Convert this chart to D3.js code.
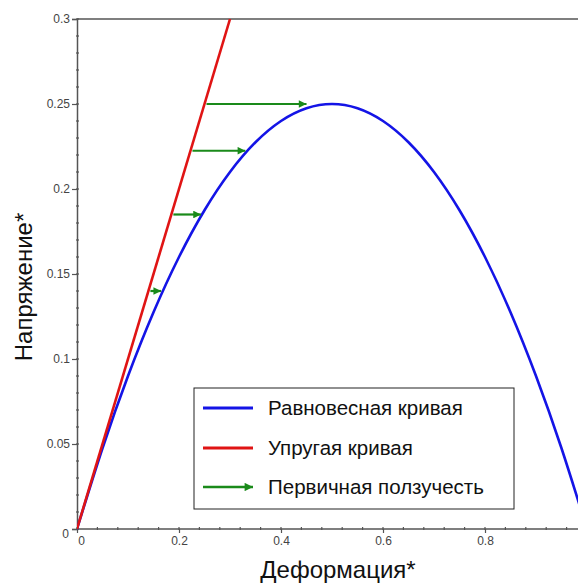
<!DOCTYPE html>
<html>
<head>
<meta charset="utf-8">
<script src="https://cdn.jsdelivr.net/npm/d3@7"></script>
<style>
  body { margin: 0; background: #fff; }
  text { font-family: "Liberation Sans", Arial, sans-serif; }
</style>
</head>
<body>
<div id="container"></div>
<script>
/* DATA */
const eqX = [0, 0.05, 0.1, 0.15, 0.2, 0.25, 0.3, 0.35, 0.4, 0.45, 0.5, 0.55, 0.6, 0.65, 0.7, 0.75, 0.8, 0.85, 0.9, 0.95, 1.0];
const eqY = [0, 0.0475, 0.09, 0.1275, 0.16, 0.1875, 0.21, 0.2275, 0.24, 0.2475, 0.25, 0.2475, 0.24, 0.2275, 0.21, 0.1875, 0.16, 0.1275, 0.09, 0.0475, 0];
const elasticX = [0, 0.3];
const elasticY = [0, 0.3];
// creep arrows: stress level, start (on elastic line), end (on equilibrium curve)
const arrowY = [0.14, 0.185, 0.2225, 0.25];
const arrowX0 = [0.14, 0.185, 0.2225, 0.25];
const arrowX1 = [0.165, 0.243, 0.33, 0.45];
const xTicks = [0, 0.2, 0.4, 0.6, 0.8];
const yTicks = [0, 0.05, 0.1, 0.15, 0.2, 0.25, 0.3];
const legendLabels = ["Равновесная кривая", "Упругая кривая", "Первичная ползучесть"];

const width = 578, height = 584;
const margin = { top: 19, left: 77, bottom: 54 };

const svg = d3.select("#container").append("svg")
  .attr("width", width).attr("height", height);

const xScale = d3.scaleLinear().domain([0, 1]).range([margin.left, margin.left + 510]);
const yScale = d3.scaleLinear().domain([0, 0.3]).range([height - margin.bottom - 1, margin.top]);

const axisColor = "#555";

// top frame line
svg.append("line")
  .attr("x1", xScale(0)).attr("x2", width)
  .attr("y1", yScale(0.3)).attr("y2", yScale(0.3))
  .attr("stroke", axisColor).attr("stroke-width", 1.5);

// minor ticks
const minorX = d3.range(0, 1.001, 0.04);
svg.append("g").selectAll("line").data(minorX).join("line")
  .attr("x1", d => xScale(d)).attr("x2", d => xScale(d))
  .attr("y1", yScale(0) - 2).attr("y2", yScale(0) + 1)
  .attr("stroke", axisColor).attr("stroke-width", 1.2);
const minorY = d3.range(0, 0.3001, 0.01);
svg.append("g").selectAll("line").data(minorY).join("line")
  .attr("x1", xScale(0) - 1).attr("x2", xScale(0) + 2)
  .attr("y1", d => yScale(d)).attr("y2", d => yScale(d))
  .attr("stroke", axisColor).attr("stroke-width", 1.2);

const xAxis = d3.axisBottom(xScale).tickValues(xTicks).tickSize(4).tickPadding(3)
  .tickFormat(d => d === 0 ? "0" : d3.format(".1f")(d));
const yAxis = d3.axisLeft(yScale).tickValues(yTicks).tickSize(5).tickPadding(2)
  .tickFormat(d => d === 0 ? "0" : String(+d.toFixed(2)));

const gx = svg.append("g").attr("transform", `translate(0, ${yScale(0)})`).call(xAxis);
const gy = svg.append("g").attr("transform", `translate(${xScale(0)}, 0)`).call(yAxis);
[gx, gy].forEach(g => {
  g.select(".domain").attr("stroke", axisColor).attr("stroke-width", 1.5);
  g.selectAll(".tick line").attr("stroke", axisColor).attr("stroke-width", 1.2);
  g.selectAll(".tick text").attr("fill", "#444").attr("font-size", 12)
    .attr("font-family", "Liberation Sans, Arial, sans-serif");
});
gx.select(".domain").attr("d", `M${xScale(0)},0H${width}`);
gy.selectAll(".tick").filter(d => d === 0).select("text").attr("dy", "0.7em").attr("x", -8);
gx.selectAll(".tick").filter(d => d === 0).select("text").attr("x", 4);

// axis titles
svg.append("text")
  .attr("x", 338).attr("y", 578)
  .attr("text-anchor", "middle").attr("font-size", 24).attr("fill", "#111")
  .text("Деформация*");
svg.append("text")
  .attr("transform", `translate(32, 287) rotate(-90)`)
  .attr("text-anchor", "middle").attr("font-size", 24).attr("fill", "#111")
  .text("Напряжение*");

// clip to plot area
svg.append("clipPath").attr("id", "plot")
  .append("rect").attr("x", xScale(0)).attr("y", yScale(0.3) - 2)
  .attr("width", width - xScale(0)).attr("height", yScale(0) - yScale(0.3) + 4);

const plot = svg.append("g").attr("clip-path", "url(#plot)");

const line = d3.line().x(d => xScale(d[0])).y(d => yScale(d[1])).curve(d3.curveNatural);

plot.append("path")
  .datum(eqX.map((x, i) => [x, eqY[i]]))
  .attr("d", line).attr("fill", "none")
  .attr("stroke", "#1414e6").attr("stroke-width", 2.6);

plot.append("path")
  .datum(elasticX.map((x, i) => [x, elasticY[i]]))
  .attr("d", d3.line().x(d => xScale(d[0])).y(d => yScale(d[1])))
  .attr("fill", "none").attr("stroke", "#e01414").attr("stroke-width", 2.6);

// arrowhead marker
svg.append("defs").append("marker")
  .attr("id", "arrow").attr("viewBox", "0 0 10 10")
  .attr("refX", 10).attr("refY", 5)
  .attr("markerWidth", 6.5).attr("markerHeight", 3.5)
  .attr("orient", "auto")
  .append("path").attr("d", "M0,0L10,5L0,10Z").attr("fill", "#1a8a1a");

plot.selectAll(".creep").data(arrowY).join("line")
  .attr("class", "creep")
  .attr("x1", (d, i) => xScale(arrowX0[i]) + 2).attr("x2", (d, i) => xScale(arrowX1[i]))
  .attr("y1", d => yScale(d)).attr("y2", d => yScale(d))
  .attr("stroke", "#1a8a1a").attr("stroke-width", 2.2)
  .attr("marker-end", "url(#arrow)");

// legend
const legend = svg.append("g");
legend.append("rect")
  .attr("x", 194).attr("y", 388).attr("width", 320).attr("height", 121)
  .attr("fill", "#fff").attr("stroke", "#222").attr("stroke-width", 1);
const legendColors = ["#1414e6", "#e01414", "#1a8a1a"];
const rowY = [408, 448, 487];
legendLabels.forEach((lab, i) => {
  legend.append("line")
    .attr("x1", 203).attr("x2", 253)
    .attr("y1", rowY[i]).attr("y2", rowY[i])
    .attr("stroke", legendColors[i]).attr("stroke-width", i === 2 ? 2.4 : 3)
    .attr("marker-end", i === 2 ? "url(#arrow)" : null);
  legend.append("text")
    .attr("x", 268).attr("y", rowY[i] + 7)
    .attr("font-size", 20.5).attr("fill", "#111")
    .text(lab);
});
</script>
</body>
</html>
